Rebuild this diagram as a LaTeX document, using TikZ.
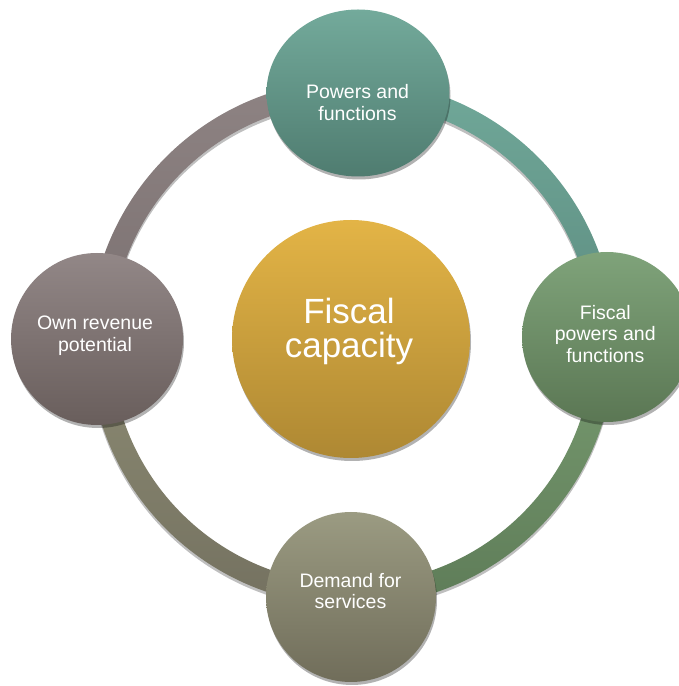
\documentclass[tikz,border=0pt]{standalone}
\usepackage{fontspec}
\setmainfont{Liberation Sans}
\usepackage{xcolor}
\usetikzlibrary{calc,shapes.geometric,shadows}

\definecolor{tealA}{HTML}{73AA9B}
\definecolor{tealB}{HTML}{4F7C70}
\definecolor{greenA}{HTML}{7FA37A}
\definecolor{greenB}{HTML}{5B7754}
\definecolor{oliveA}{HTML}{9B9B82}
\definecolor{oliveB}{HTML}{706D5A}
\definecolor{mauveA}{HTML}{928787}
\definecolor{mauveB}{HTML}{695E5C}
\definecolor{goldA}{HTML}{E3B446}
\definecolor{goldB}{HTML}{AE8833}
\definecolor{ringtealA}{HTML}{70A899}
\definecolor{ringtealB}{HTML}{5D8C80}
\definecolor{ringmauveA}{HTML}{8E8383}
\definecolor{ringmauveB}{HTML}{7A7070}
\definecolor{ringoliveA}{HTML}{8C8B73}
\definecolor{ringoliveB}{HTML}{747160}
\definecolor{ringgreenA}{HTML}{789B70}
\definecolor{ringgreenB}{HTML}{5E7C58}

\begin{document}
\begin{tikzpicture}[x=1pt, y=1pt]
        \tikzstyle{bubble} = [circle, minimum size=170pt, inner sep=0pt,
            drop shadow={shadow xshift=1pt, shadow yshift=-3pt, fill=black, opacity=.3}]
        \tikzstyle{caption} = [text=white, align=center, inner sep=0pt,
            font=\fontsize{19.5}{21.5}\selectfont]
        \useasboundingbox (0,0) rectangle (679,686);
        \coordinate (ring) at (352,343);
        \foreach \a/\hi/\lo in {0/ringtealA/ringtealB, 90/ringmauveA/ringmauveB,
        180/ringoliveA/ringoliveB, 270/ringgreenA/ringgreenB}
            \shade[top color=\hi, bottom color=\lo,
                drop shadow={shadow xshift=0pt, shadow yshift=-3pt, fill=black, opacity=.25}]
                ($(ring)+(\a:241)$) arc[start angle=\a, delta angle=90, radius=241]
                -- ($(ring)+(\a+90:263)$) arc[start angle=\a+90, delta angle=-90, radius=263]
                -- cycle;
        \node[bubble, ellipse, minimum width=183pt, minimum height=167pt,
            top color=tealA, bottom color=tealB] (powers) at (358,593) {};
        \node[bubble, top color=greenA, bottom color=greenB] (fiscalpowers) at (607,349) {};
        \node[bubble, top color=oliveA, bottom color=oliveB] (demand) at (351,89) {};
        \node[bubble, minimum size=172pt, top color=mauveA, bottom color=mauveB] (revenue) at (97,347) {};
        \node[bubble, minimum size=238pt, top color=goldA, bottom color=goldB] (capacity) at (351,347) {};
        \node[caption] (powerstext) at (357.5,583.3) {Powers and\\functions};
        \node[caption] (fiscalpowerstext) at (605.3,352.3) {Fiscal\\powers and\\functions};
        \node[caption] (demandtext) at (350.5,94.9) {Demand for\\services};
        \node[caption] (revenuetext) at (95,350.5) {Own revenue\\potential};
        \node[caption, font=\fontsize{35}{34}\selectfont] (capacitytext) at (349,355) {Fiscal\\capacity};
    \end{tikzpicture}
\end{document}
